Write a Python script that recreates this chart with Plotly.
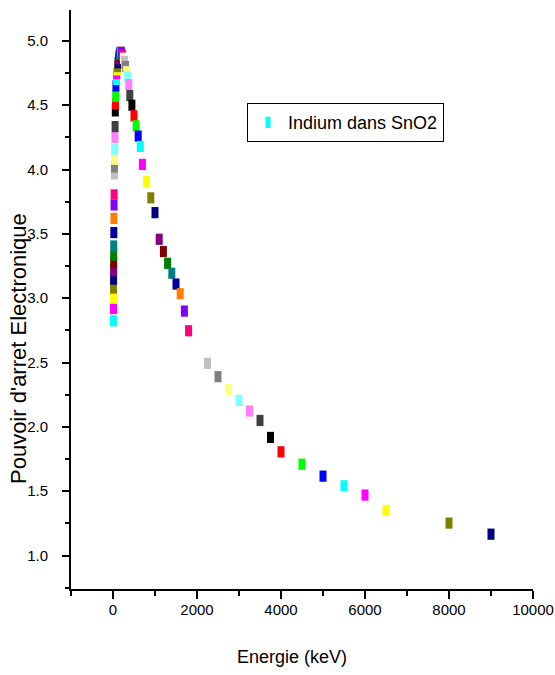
import plotly.graph_objects as go

# Energy (keV) and electronic stopping power of Indium in SnO2
energy = [10, 11, 12, 13, 14, 15, 16, 17, 18, 20, 22.5, 25, 27.5, 30, 32.5, 35, 37.5, 40,
          45, 50, 55, 60, 65, 70, 80, 90, 100, 110, 120, 130, 140, 150, 160, 170, 180,
          200, 225, 250, 275, 300, 325, 350, 375, 400, 450, 500, 550, 600, 650, 700,
          800, 900, 1000, 1100, 1200, 1300, 1400, 1500, 1600, 1700, 1800, 2000, 2250,
          2500, 2750, 3000, 3250, 3500, 3750, 4000, 4500, 5000, 5500, 6000, 6500, 8000, 9000]
stopping = [2.825, 2.92, 3.00, 3.079, 3.149, 3.214, 3.276, 3.334, 3.406, 3.51, 3.62, 3.725,
            3.81, 3.89, 3.966, 4.02, 4.08, 4.158, 4.25, 4.334, 4.456, 4.51, 4.57, 4.65,
            4.70, 4.745, 4.775, 4.80, 4.83, 4.86, 4.88, 4.895, 4.905, 4.91, 4.912,
            4.91, 4.89, 4.865, 4.84, 4.80, 4.76, 4.72, 4.66, 4.575, 4.50, 4.417,
            4.34, 4.26, 4.18, 4.04, 3.906, 3.78, 3.665, 3.458, 3.362, 3.271, 3.194,
            3.11, 3.035, 2.90, 2.747, 2.62, 2.494, 2.39, 2.29, 2.206, 2.123, 2.05,
            1.918, 1.806, 1.71, 1.617, 1.542, 1.47, 1.35, 1.252, 1.166]

x_ticks = [0, 2000, 4000, 6000, 8000, 10000]
x_labels = ["0", "2000", "4000", "6000", "8000", "10000"]
y_ticks = [1.0, 1.5, 2.0, 2.5, 3.0, 3.5, 4.0, 4.5, 5.0]
y_labels = ["1.0", "1.5", "2.0", "2.5", "3.0", "3.5", "4.0", "4.5", "5.0"]
series_name = "Indium dans SnO2"

# Origin-style colour cycle (starting index matches the first row)
palette = ["#00FFFF", "#FF00FF", "#FFFF00", "#808000", "#000080", "#800080", "#800000",
           "#008000", "#008080", "#0000A0", "#FF8000", "#8000FF", "#FF0080", "#FFFFFF",
           "#C0C0C0", "#808080", "#FFFF80", "#80FFFF", "#FF80FF", "#404040", "#000000",
           "#FF0000", "#00FF00", "#0000FF"]
colors = [palette[i % len(palette)] for i in range(len(energy))]

FONT = "Liberation Sans, Arial, sans-serif"

fig = go.Figure()
fig.add_trace(go.Scatter(
    x=energy, y=stopping, mode="markers", name=series_name,
    marker=dict(symbol="line-ns", size=8, color=colors,
                line=dict(width=7, color=colors)),
    showlegend=True,
))

fig.update_layout(
    width=555, height=675,
    margin=dict(l=71, r=22, t=10, b=86, autoexpand=False),
    paper_bgcolor="white", plot_bgcolor="white",
    font=dict(family=FONT, size=15, color="black"),
    showlegend=True,
    legend=dict(x=0.381, y=0.839, xanchor="left", yanchor="top",
                bordercolor="black", borderwidth=1, bgcolor="white",
                font=dict(size=18, family=FONT), itemwidth=30),
    xaxis=dict(range=[-1000, 10000], tickmode="array", tickvals=x_ticks,
               ticktext=x_labels, ticklabeloverflow="allow", automargin=False,
               ticks="outside", ticklen=8, tickwidth=2, tickcolor="black",
               showline=True, linecolor="black", linewidth=2,
               showgrid=False, zeroline=False, ticklabelstandoff=-2,
               minor=dict(tick0=-1000, dtick=1000, ticks="outside", ticklen=5,
                          tickwidth=1.5, tickcolor="black", showgrid=False),
               tickfont=dict(size=15, family=FONT)),
    yaxis=dict(range=[0.74, 5.24], tickmode="array", tickvals=y_ticks,
               ticktext=y_labels, automargin=False,
               ticks="outside", ticklen=7, tickwidth=2, tickcolor="black",
               showline=True, linecolor="black", linewidth=2,
               showgrid=False, zeroline=False, ticklabelstandoff=11,
               minor=dict(tick0=0.75, dtick=0.5, ticks="outside", ticklen=4,
                          tickwidth=1.5, tickcolor="black", showgrid=False),
               tickfont=dict(size=15, family=FONT)),
    annotations=[
        dict(text="Energie (keV)", xref="paper", yref="paper", x=0.478, y=-0.118,
             xanchor="center", yanchor="middle", showarrow=False,
             font=dict(size=18, family=FONT)),
        dict(text="Pouvoir d'arret Electronique", xref="paper", yref="paper",
             x=-0.115, y=0.416, xanchor="center", yanchor="middle", textangle=-90,
             showarrow=False, font=dict(size=22, family=FONT)),
    ],
)

fig.write_html("out.html")
